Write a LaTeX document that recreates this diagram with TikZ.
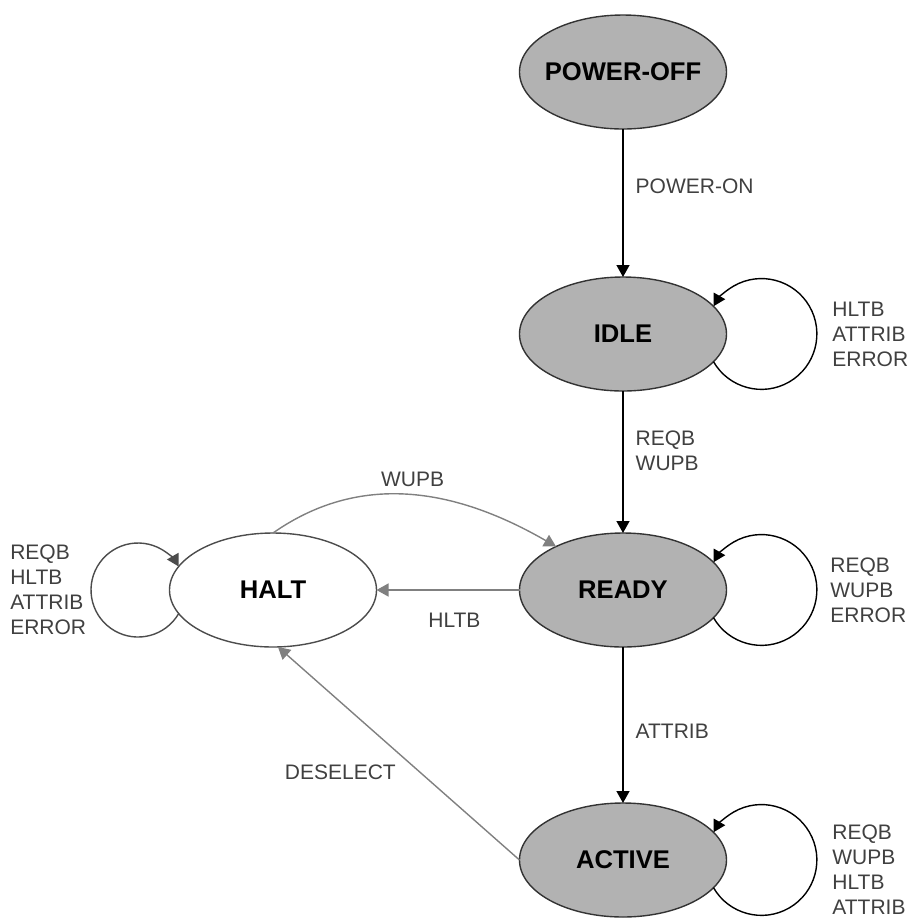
\documentclass[tikz,border=0pt]{standalone}
\usepackage{fontspec}
\setmainfont{Liberation Sans}
\usetikzlibrary{arrows.meta,positioning,shapes.geometric}

\begin{document}
\begin{tikzpicture}[
  x=0.5pt, y=0.5pt,
  state/.style={ellipse, draw=black!80, line width=0.7pt, fill=gray!60,
    minimum width=103.5pt, minimum height=57pt, inner xsep=-12pt, inner ysep=0pt,
    outer sep=0pt, font=\fontsize{12.8}{15}\selectfont\bfseries},
  cond/.style={align=left, inner sep=3pt, text=black!75,
    font=\fontsize{10.5}{12.5}\selectfont},
  arrow/.style={-{Triangle[length=6pt,width=6.5pt]}, line width=0.7pt},
  greyarrow/.style={arrow, draw=black!50}
]
\useasboundingbox (0,0) rectangle (908,-918);

\node[state] (poweroff) at (623,-72) {POWER-OFF};
\node[state, below=74pt of poweroff] (idle) {IDLE};
\node[state, below=71pt of idle] (ready) {READY};
\node[state, below=78pt of ready] (active) {ACTIVE};
\node[state, fill=white, draw=black!70, left=71.5pt of ready] (halt) {HALT};

% main chain
\draw[arrow] (poweroff) -- node[cond, pos=0.39, right=3pt] {POWER-ON} (idle);
\draw[arrow] (idle) -- node[cond, pos=0.42, right=3pt] {REQB\\WUPB} (ready);
\draw[arrow] (ready) -- node[cond, pos=0.54, right=3pt] {ATTRIB} (active);

% to and from halt
\draw[greyarrow] (ready) -- node[cond, pos=0.455, below=8pt] {HLTB} (halt);
\draw[greyarrow] (halt.north) to[out=35, in=150] node[cond, above=1pt] {WUPB} (ready.147);
\draw[greyarrow] (active.west) -- node[cond, pos=0.41, left=9pt] {DESELECT} (halt.-85);

% self loops
\draw[arrow] (idle.-17) arc[start angle=-150, end angle=150, radius=27.7pt];
\draw[arrow] (ready.-17) arc[start angle=-150, end angle=150, radius=27.7pt];
\draw[arrow] (active.-17) arc[start angle=-150, end angle=150, radius=27.7pt];
\draw[arrow, draw=black!70] (halt.194) arc[start angle=-30, end angle=-330, radius=23.5pt];

\node[cond, right=49.75pt of idle] (idleloop) {HLTB\\ATTRIB\\ERROR};
\node[cond, right=48.75pt of ready] (readyloop) {REQB\\WUPB\\ERROR};
\node[cond, right=49.75pt of active, yshift=-5pt] (activeloop) {REQB\\WUPB\\HLTB\\ATTRIB};
\node[cond, left=38.5pt of halt] (haltloop) {REQB\\HLTB\\ATTRIB\\ERROR};
\end{tikzpicture}
\end{document}
